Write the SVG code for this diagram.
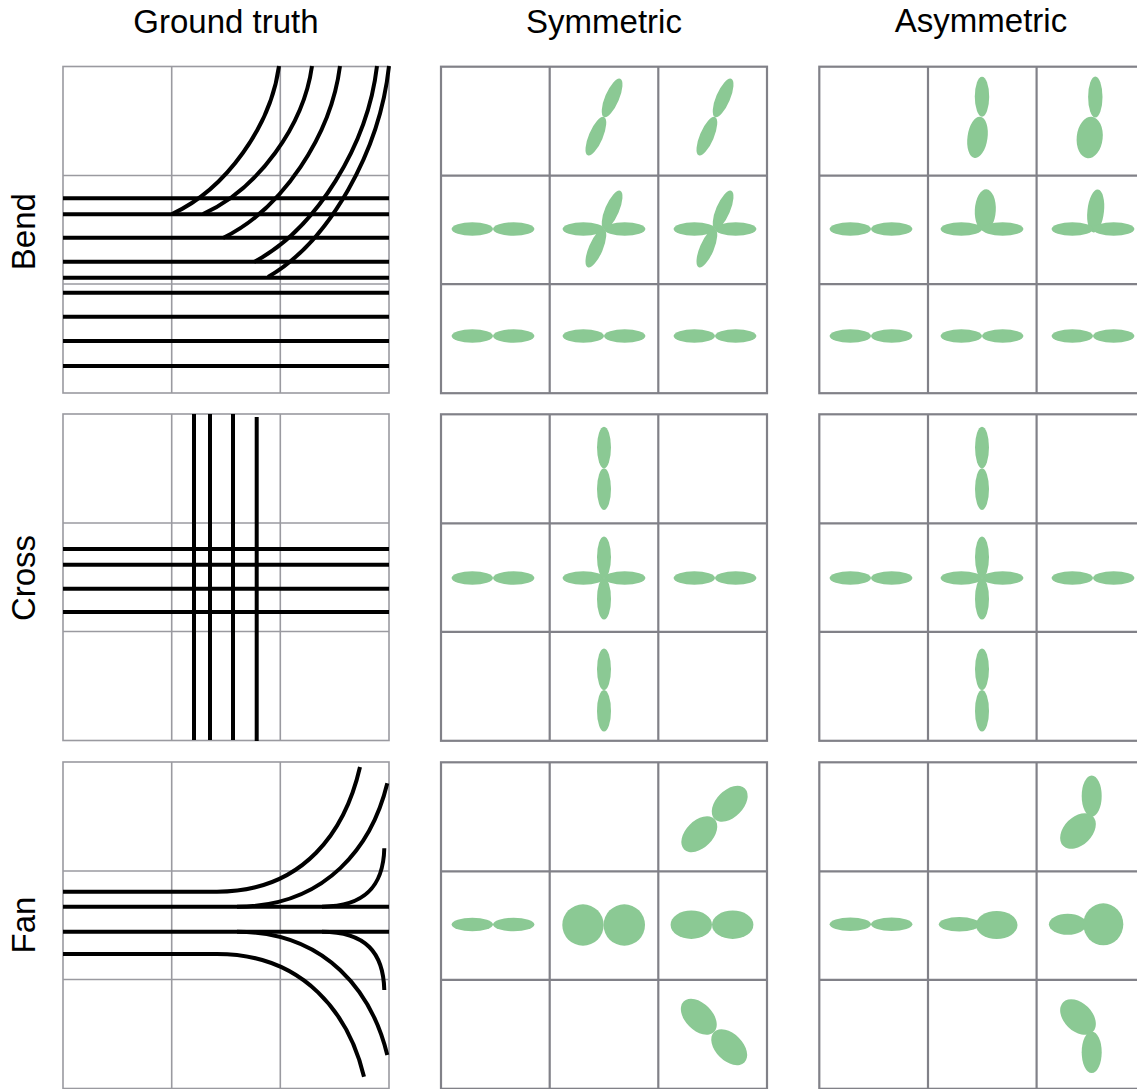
<svg xmlns="http://www.w3.org/2000/svg" xmlns:xlink="http://www.w3.org/1999/xlink" width="1137" height="1089" viewBox="0 0 1137 1089">
  <style>
    .title { font-family: "Liberation Sans", Arial, sans-serif; font-size: 33px; fill: #000; text-anchor: middle; }
    .gt-grid { fill: none; stroke: #9a9aa0; stroke-width: 1.6; }
    .gl-grid { fill: none; stroke: #818188; stroke-width: 2.2; }
    .track { fill: none; stroke: #000; stroke-width: 4; }
    .glyph { fill: #8bc994; stroke: none; }
  </style>
  <defs>
    <g id="hp" class="glyph">
      <ellipse cx="-20.7" cy="0" rx="20.7" ry="6.8"/>
      <ellipse cx="20.7" cy="0" rx="20.7" ry="6.8"/>
    </g>
    <g id="vp" class="glyph">
      <ellipse cx="0" cy="-20.8" rx="7" ry="20.8"/>
      <ellipse cx="0" cy="20.8" rx="7" ry="20.8"/>
    </g>
    <g id="gtgrid">
      <rect x="0" y="0" width="326" height="326.5" class="gt-grid"/>
      <line x1="108.7" y1="0" x2="108.7" y2="326.5" class="gt-grid"/>
      <line x1="217.3" y1="0" x2="217.3" y2="326.5" class="gt-grid"/>
      <line x1="0" y1="109" x2="326" y2="109" class="gt-grid"/>
      <line x1="0" y1="217.5" x2="326" y2="217.5" class="gt-grid"/>
    </g>
    <g id="glgrid">
      <rect x="0" y="0" width="326" height="326.5" class="gl-grid"/>
      <line x1="108.7" y1="0" x2="108.7" y2="326.5" class="gl-grid"/>
      <line x1="217.3" y1="0" x2="217.3" y2="326.5" class="gl-grid"/>
      <line x1="0" y1="109" x2="326" y2="109" class="gl-grid"/>
      <line x1="0" y1="217.5" x2="326" y2="217.5" class="gl-grid"/>
    </g>
  </defs>
  <rect width="1137" height="1089" fill="#fff"/>

  <g id="titles">
    <text class="title" x="226" y="33">Ground truth</text>
    <text class="title" x="604" y="33">Symmetric</text>
    <text class="title" x="981" y="32">Asymmetric</text>
    <text class="title" transform="translate(35,231.7) rotate(-90)">Bend</text>
    <text class="title" transform="translate(35,578) rotate(-90)">Cross</text>
    <text class="title" transform="translate(35,925) rotate(-90)">Fan</text>
  </g>

  <!-- Ground truth: Bend -->
  <g id="gt-bend">
    <use href="#gtgrid" x="63" y="66.5"/>
    <g class="track">
      <line x1="63" y1="198.3" x2="389" y2="198.3"/>
      <line x1="63" y1="214.3" x2="389" y2="214.3"/>
      <line x1="63" y1="237.7" x2="389" y2="237.7"/>
      <line x1="63" y1="261.7" x2="389" y2="261.7"/>
      <line x1="63" y1="277.7" x2="389" y2="277.7"/>
      <line x1="63" y1="292.7" x2="389" y2="292.7"/>
      <line x1="63" y1="316.7" x2="389" y2="316.7"/>
      <line x1="63" y1="341" x2="389" y2="341"/>
      <line x1="63" y1="366" x2="389" y2="366"/>
      <path d="M172,214 C226.6,188.8 271,125.2 279,66"/>
      <path d="M203,214 C258.6,188.8 303.8,125.2 312,66"/>
      <path d="M223,238 C282.7,208.8 331.2,134.8 340,66"/>
      <path d="M254,262 C316.7,228.7 367.8,144.4 377,66"/>
      <path d="M268,277 C329.7,241.1 379.9,150.4 389,66"/>
    </g>
  </g>

  <!-- Ground truth: Cross -->
  <g id="gt-cross">
    <use href="#gtgrid" x="63" y="414"/>
    <g class="track">
      <line x1="63" y1="549" x2="389" y2="549"/>
      <line x1="63" y1="564.7" x2="389" y2="564.7"/>
      <line x1="63" y1="588.7" x2="389" y2="588.7"/>
      <line x1="63" y1="612" x2="389" y2="612"/>
      <line x1="194" y1="414" x2="194" y2="740"/>
      <line x1="210" y1="414" x2="210" y2="740"/>
      <line x1="233" y1="414" x2="233" y2="740"/>
      <line x1="256.7" y1="417" x2="256.7" y2="741"/>
    </g>
  </g>

  <!-- Ground truth: Fan -->
  <g id="gt-fan">
    <use href="#gtgrid" x="63" y="762"/>
    <g class="track">
      <path d="M63,891.7 L217,891.7 C305,891.7 345.7,829.4 360,767"/>
      <line x1="63" y1="906.7" x2="389" y2="906.7"/>
      <path d="M237,906.7 C327.2,906.7 372.3,845 387.3,783.3"/>
      <path d="M322,906.7 C366,906.7 383.4,885 384.3,848.3"/>
      <line x1="63" y1="931.7" x2="389" y2="931.7"/>
      <path d="M237,931.7 C327.2,931.7 372.3,993.3 387.3,1055"/>
      <path d="M322,931.7 C366,931.7 383.4,953 384.3,990"/>
      <path d="M63,954 L217,954 C305.2,954 349.3,1015.4 364,1076.7"/>
    </g>
  </g>

  <!-- Symmetric: Bend -->
  <g id="sym-bend">
    <use href="#glgrid" x="441" y="66.7"/>
    <use href="#vp" transform="translate(604,117) rotate(23)"/>
    <use href="#vp" transform="translate(715,117) rotate(23)"/>
    <use href="#hp" transform="translate(493,229)"/>
    <use href="#hp" transform="translate(604,229)"/>
    <use href="#vp" transform="translate(604,229) rotate(23)"/>
    <use href="#hp" transform="translate(715,229)"/>
    <use href="#vp" transform="translate(715,229) rotate(23)"/>
    <use href="#hp" transform="translate(493,336)"/>
    <use href="#hp" transform="translate(604,336)"/>
    <use href="#hp" transform="translate(715,336)"/>
  </g>

  <!-- Asymmetric: Bend -->
  <g id="asym-bend">
    <use href="#glgrid" x="819.3" y="66.7"/>
    <g class="glyph">
      <ellipse cx="982" cy="96.7" rx="7.2" ry="20"/>
      <ellipse cx="977.5" cy="137.3" rx="10" ry="20.8" transform="rotate(8 977.5 137.3)"/>
      <ellipse cx="1095.3" cy="97" rx="7.2" ry="20.5"/>
      <ellipse cx="1089.7" cy="137.5" rx="13" ry="20.8" transform="rotate(6 1089.7 137.5)"/>
      <ellipse cx="985.3" cy="210.3" rx="10.5" ry="21" transform="rotate(3 985.3 210.3)"/>
      <ellipse cx="1095.7" cy="211" rx="8.3" ry="21.5" transform="rotate(6 1095.7 211)"/>
    </g>
    <use href="#hp" transform="translate(871,229)"/>
    <use href="#hp" transform="translate(982,229)"/>
    <use href="#hp" transform="translate(1093,229)"/>
    <use href="#hp" transform="translate(871,336)"/>
    <use href="#hp" transform="translate(982,336)"/>
    <use href="#hp" transform="translate(1093,336)"/>
  </g>

  <!-- Symmetric: Cross -->
  <g id="sym-cross">
    <use href="#glgrid" x="441" y="414.3"/>
    <use href="#vp" transform="translate(604,468.3)"/>
    <use href="#hp" transform="translate(493,578)"/>
    <use href="#hp" transform="translate(604,578)"/>
    <use href="#vp" transform="translate(604,578)"/>
    <use href="#hp" transform="translate(715,578)"/>
    <use href="#vp" transform="translate(604,690)"/>
  </g>

  <!-- Asymmetric: Cross -->
  <g id="asym-cross">
    <use href="#glgrid" x="819.3" y="414.3"/>
    <use href="#vp" transform="translate(982,468.3)"/>
    <use href="#hp" transform="translate(871,578)"/>
    <use href="#hp" transform="translate(982,578)"/>
    <use href="#vp" transform="translate(982,578)"/>
    <use href="#hp" transform="translate(1093,578)"/>
    <use href="#vp" transform="translate(982,690)"/>
  </g>

  <!-- Symmetric: Fan -->
  <g id="sym-fan">
    <use href="#glgrid" x="441" y="762.3"/>
    <g class="glyph">
      <g transform="translate(714.5,819) rotate(-45)">
        <ellipse cx="-21.5" cy="0" rx="21.5" ry="13.5"/>
        <ellipse cx="21.5" cy="0" rx="21.5" ry="13.5"/>
      </g>
      <circle cx="583" cy="925" r="20.7"/>
      <circle cx="624.3" cy="925" r="20.7"/>
      <ellipse cx="691.3" cy="924.7" rx="20.7" ry="14.2"/>
      <ellipse cx="732.7" cy="924.7" rx="20.7" ry="14.2"/>
      <g transform="translate(714,1032) rotate(45)">
        <ellipse cx="-21.5" cy="0" rx="21.5" ry="13.5"/>
        <ellipse cx="21.5" cy="0" rx="21.5" ry="13.5"/>
      </g>
    </g>
    <use href="#hp" transform="translate(493,924.5)"/>
  </g>

  <!-- Asymmetric: Fan -->
  <g id="asym-fan">
    <use href="#glgrid" x="819.3" y="762.3"/>
    <g class="glyph">
      <ellipse cx="1091.7" cy="796" rx="10" ry="20.5"/>
      <ellipse cx="1078" cy="831" rx="21" ry="14" transform="rotate(-45 1078 831)"/>
      <ellipse cx="959.3" cy="924.3" rx="20.5" ry="7.2"/>
      <ellipse cx="996.7" cy="925" rx="20.8" ry="14"/>
      <ellipse cx="1067.7" cy="924.3" rx="18.8" ry="10.5"/>
      <ellipse cx="1103.3" cy="924.3" rx="20" ry="21"/>
      <ellipse cx="1078" cy="1017" rx="21" ry="14" transform="rotate(45 1078 1017)"/>
      <ellipse cx="1091.7" cy="1052.3" rx="10" ry="20.8"/>
    </g>
    <use href="#hp" transform="translate(871,924.3)"/>
  </g>
</svg>
